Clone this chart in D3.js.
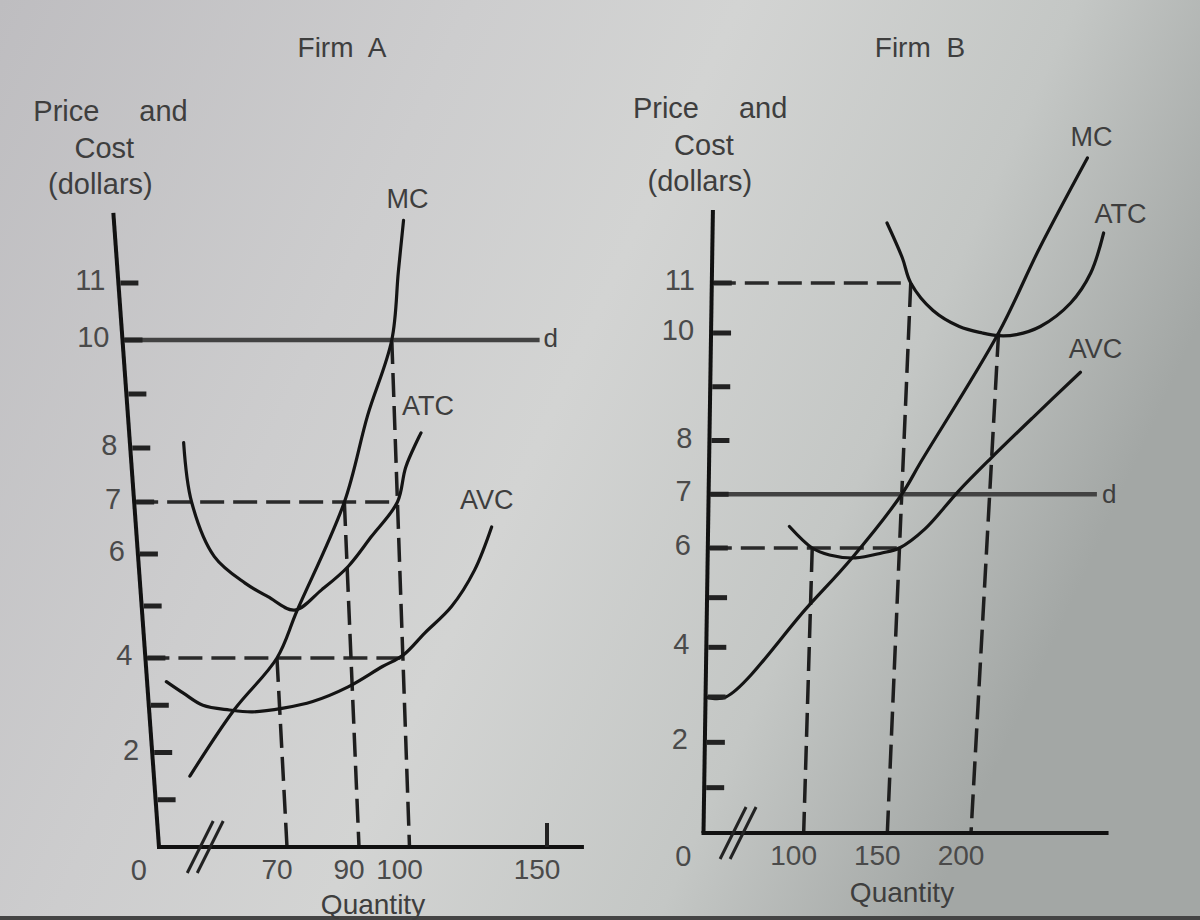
<!DOCTYPE html>
<html>
<head>
<meta charset="utf-8">
<script src="https://cdn.jsdelivr.net/npm/d3@7"></script>
<style>
  html, body { margin: 0; padding: 0; background: #c8c8c8; }
  svg { display: block; }
  text { font-family: "Liberation Sans", Arial, sans-serif; fill: #3e3e3e; }
</style>
</head>
<body>
<svg id="chart" width="1200" height="920"></svg>
<script>
// values, [quantity, dollars]
const mcA = [[53.5, 1.5], [62, 2.9], [70, 4], [76, 4.9], [90, 7], [95, 8.6], [100, 10], [103, 11.2], [105.3, 12.1]];
const atcA = [[56.2, 8.1], [56.9, 7], [60.2, 5.95], [65.2, 5.44], [69, 5.18], [75.4, 4.92], [82.9, 5.31],
    [90.2, 5.76], [94.8, 6.33], [100, 7], [103.3, 7.65], [108.9, 8.28]];
const avcA = [[50.5, 3.5], [53.4, 3.25], [56.6, 3.0], [61.2, 2.9], [65.2, 2.86], [71, 2.94], [79.1, 3.08],
    [88.9, 3.39], [96, 3.82], [100, 4.05], [108, 4.48], [117.7, 4.99], [126.1, 5.69], [132.4, 6.52]];
const priceA = 10;
const hDashA = [[7, 100], [4, 100]];          // [dollars, quantity reached]
const vDashA = [[70, 4], [90, 7], [100, 10]];  // [quantity, dollars]
const xLabelsA = [70, 90, 100, 150];

const mcB = [[0, 3], [52, 3], [98, 4.8], [123, 5.8], [150, 7], [160, 7.6], [200, 10], [220, 11.7], [243, 13.5]];
const atcB = [[135.6, 12.2], [144.8, 11.5], [150, 11], [163, 10.45], [178, 10.13], [191, 10.0], [200, 9.95],
    [210, 9.97], [223, 10.13], [239, 10.6], [249, 11.2], [254.6, 12]];
const avcB = [[86.6, 6.4], [100, 6.0], [110, 5.86], [125, 5.8], [140, 5.9], [150, 6.0], [164, 6.35],
    [182, 7.05], [199, 7.65], [222.6, 8.45], [247, 9.27]];
const priceB = 7;
const hDashB = [[11, 150], [6, 150]];
const vDashB = [[100, 6], [150, 11], [200, 10]];
const xLabelsB = [100, 150, 200];

const yTicks = d3.range(1, 12);
const yLabels = [2, 4, 6, 7, 8, 10, 11];

const svg = d3.select("#chart");

let defs = svg.append("defs");
let grad = defs.append("linearGradient").attr("id", "bg")
    .attr("x1", 0).attr("y1", 0).attr("x2", 1).attr("y2", 0.35);
[["0", "#bebdc0"], ["0.35", "#cdcdce"], ["0.55", "#d3d4d3"], ["0.8", "#c4c7c5"], ["1", "#a3a7a5"]]
    .forEach(s => grad.append("stop").attr("offset", s[0]).attr("stop-color", s[1]));
svg.append("rect").attr("width", 1200).attr("height", 920).attr("fill", "url(#bg)");
svg.append("rect").attr("y", 916).attr("width", 1200).attr("height", 4).attr("fill", "#444");

const panels = [
    {
        title: "Firm A", titleX: 342,
        xDomain: [0, 50, 70, 90, 100, 150], xRange: [159, 175, 287, 359, 409.5, 547],
        yDomain: [0, 4, 7, 10, 11], yRange: [847, 658, 502, 340, 283],
        lean: 0.072, leanGrow: -0.000148,
        yTop: 12.23, xEnd: 162.7, breakQ: 55.4, xTicks: [150],
        mc: mcA, atc: atcA, avc: avcA, price: priceA, dEnd: 150,
        hDash: hDashA, vDash: vDashA, xLabels: xLabelsA,
        labelGap: 13, qLabelX: 373, qLabelDy: 67,
        mcLab: [4, -22, "middle"], atcLab: [-19, -27, "start"], avcLab: [-5, -27, "middle"], dLab: [4, -2]
    },
    {
        title: "Firm B", titleX: 920,
        xDomain: [0, 50, 200], xRange: [703.5, 720, 971],
        yDomain: [0, 3, 6, 10, 11], yRange: [833, 697, 548, 333, 283],
        lean: -0.0151, leanGrow: -0.0001495,
        yTop: 12.46, xEnd: 281, breakQ: 60.8, xTicks: [],
        mc: mcB, atc: atcB, avc: avcB, price: priceB, dEnd: 261,
        hDash: hDashB, vDash: vDashB, xLabels: xLabelsB,
        labelGap: 17, qLabelX: 902, qLabelDy: 69,
        mcLab: [4, -21, "middle"], atcLab: [17, -19, "middle"], avcLab: [15, -24, "middle"], dLab: [5, 0]
    }
];

panels.forEach(drawPanel);

function drawPanel(p) {
    let x = d3.scaleLinear().domain(p.xDomain).range(p.xRange);
    let y = d3.scaleLinear().domain(p.yDomain).range(p.yRange);
    let base = y(0);
    let x0 = x(0);
    // the photographed page is not square to the lens, so each panel leans a little
    let pos = function (q, v) {
        let xb = x(q), yy = y(v);
        let k = p.lean + p.leanGrow * (xb - x0);
        return [xb + k * (yy - base), yy];
    };
    let g = svg.append("g");

    let straight = d3.line()
        .x(d => pos(d[0], d[1])[0])
        .y(d => pos(d[0], d[1])[1]);
    let smooth = d3.line()
        .curve(d3.curveCatmullRom.alpha(0.5))
        .x(d => pos(d[0], d[1])[0])
        .y(d => pos(d[0], d[1])[1]);

    // dashed guides
    p.hDash.forEach(function (d) {
        g.append("path").attr("d", straight([[0, d[0]], [d[1], d[0]]]))
            .attr("fill", "none").attr("stroke", "#2a2a2a").attr("stroke-width", 3.5)
            .attr("stroke-dasharray", "24,9");
    });
    p.vDash.forEach(function (d) {
        g.append("path").attr("d", straight([[d[0], d[1]], [d[0], 0]]))
            .attr("fill", "none").attr("stroke", "#1e1e1e").attr("stroke-width", 3.5)
            .attr("stroke-dasharray", "24,9");
    });

    // demand line
    g.append("path").attr("d", straight([[0, p.price], [p.dEnd, p.price]]))
        .attr("fill", "none").attr("stroke", "#424242").attr("stroke-width", 4.5);
    let dEndPt = pos(p.dEnd, p.price);
    g.append("text").attr("x", dEndPt[0] + p.dLab[0]).attr("y", dEndPt[1] + p.dLab[1])
        .attr("dy", "0.35em").style("font-size", "26px").text("d");

    // cost curves
    [["MC", p.mc, p.mcLab], ["ATC", p.atc, p.atcLab], ["AVC", p.avc, p.avcLab]].forEach(function (c) {
        g.append("path").attr("d", smooth(c[1]))
            .attr("fill", "none").attr("stroke", "#141414").attr("stroke-width", 3.2)
            .attr("stroke-linejoin", "round").attr("stroke-linecap", "round");
        let end = c[1][c[1].length - 1];
        let pt = pos(end[0], end[1]);
        g.append("text").attr("x", pt[0] + c[2][0]).attr("y", pt[1] + c[2][1])
            .attr("dy", "0.35em").attr("text-anchor", c[2][2])
            .style("font-size", "27px").text(c[0]);
    });

    // axes
    g.append("path").attr("d", straight([[0, 0], [0, p.yTop]]))
        .attr("fill", "none").attr("stroke", "#111").attr("stroke-width", 4);
    g.append("path").attr("d", straight([[0, 0], [p.xEnd, 0]]))
        .attr("fill", "none").attr("stroke", "#111").attr("stroke-width", 4)
        .attr("stroke-linecap", "square");

    yTicks.forEach(function (v) {
        let pt = pos(0, v);
        g.append("line").attr("x1", pt[0] + 2).attr("x2", pt[0] + 20)
            .attr("y1", pt[1]).attr("y2", pt[1])
            .attr("stroke", "#222").attr("stroke-width", 5);
    });
    yLabels.forEach(function (v) {
        let pt = pos(0, v);
        g.append("text").attr("x", pt[0] - p.labelGap).attr("y", pt[1] - 3)
            .attr("dy", "0.35em").attr("text-anchor", "end")
            .style("font-size", "29px").style("fill", "#4a4a4a").text(v);
    });
    let origin = pos(0, 0);
    g.append("text").attr("x", origin[0] - 12).attr("y", origin[1] + 23)
        .attr("dy", "0.35em").attr("text-anchor", "end")
        .style("font-size", "29px").style("fill", "#4a4a4a").text("0");

    p.xTicks.forEach(function (q) {
        let pt = pos(q, 0);
        g.append("line").attr("x1", pt[0]).attr("x2", pt[0])
            .attr("y1", pt[1]).attr("y2", pt[1] - 24)
            .attr("stroke", "#222").attr("stroke-width", 4);
    });
    p.xLabels.forEach(function (q) {
        let pt = pos(q, 0);
        g.append("text").attr("x", pt[0] - 10).attr("y", pt[1] + 22)
            .attr("dy", "0.35em").attr("text-anchor", "middle")
            .style("font-size", "28px").style("fill", "#4a4a4a").text(q);
    });

    // axis break
    let br = pos(p.breakQ, 0);
    [-5, 5].forEach(function (off) {
        g.append("line")
            .attr("x1", br[0] + off - 13).attr("y1", br[1] + 26)
            .attr("x2", br[0] + off + 13).attr("y2", br[1] - 26)
            .attr("stroke", "#222").attr("stroke-width", 3);
    });

    // titles
    let top = pos(0, p.yTop);
    g.append("text").attr("x", p.titleX).attr("y", 57).attr("text-anchor", "middle")
        .style("font-size", "28px").style("word-spacing", "8px").text(p.title);
    g.append("text").attr("x", top[0] - 80).attr("y", top[1] - 92)
        .style("font-size", "29px").text("Price");
    g.append("text").attr("x", top[0] + 26).attr("y", top[1] - 92)
        .style("font-size", "29px").text("and");
    g.append("text").attr("x", top[0] - 9).attr("y", top[1] - 55).attr("text-anchor", "middle")
        .style("font-size", "29px").text("Cost");
    g.append("text").attr("x", top[0] - 13).attr("y", top[1] - 19).attr("text-anchor", "middle")
        .style("font-size", "29px").text("(dollars)");
    g.append("text").attr("x", p.qLabelX).attr("y", base + p.qLabelDy).attr("text-anchor", "middle")
        .style("font-size", "28px").text("Quantity");
}
</script>
</body>
</html>
